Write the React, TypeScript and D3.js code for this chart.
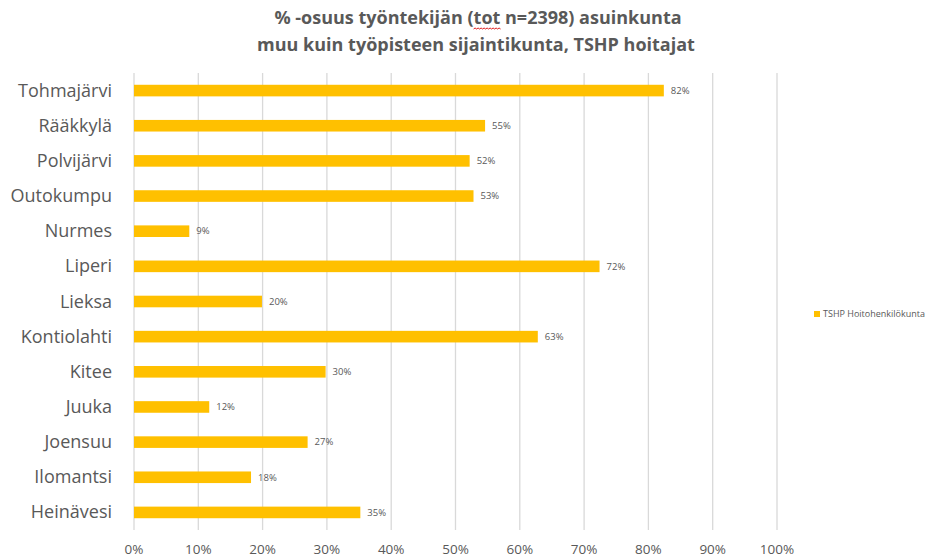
import React, { useLayoutEffect, useRef, useState } from "react";
import * as d3 from "d3";

const categories = ["Tohmajärvi", "Rääkkylä", "Polvijärvi", "Outokumpu", "Nurmes", "Liperi", "Lieksa", "Kontiolahti", "Kitee", "Juuka", "Joensuu", "Ilomantsi", "Heinävesi"];
const values = [82.4, 54.6, 52.2, 52.8, 8.6, 72.4, 19.9, 62.8, 29.8, 11.7, 27.0, 18.2, 35.2];
const ticks = [0, 10, 20, 30, 40, 50, 60, 70, 80, 90, 100];
const titleA = "% -osuus työntekijän (";
const titleTot = "tot";
const titleB = " n=2398) asuinkunta";
const titleLine2 = "muu kuin työpisteen sijaintikunta, TSHP hoitajat";
const seriesName = "TSHP Hoitohenkilökunta";

const W = 927, H = 557;
const left = 134, right = 777, top = 73, bottom = 530;
const font = "'Open Sans', 'Noto Sans', sans-serif";

export default function App() {
  const x = d3.scaleLinear().domain([0, 100]).range([left, right]);
  const y = d3.scaleBand().domain(categories).range([top, bottom]).paddingInner(0.67).paddingOuter(0.335);
  const bh = y.bandwidth();
  const totRef = useRef<SVGTSpanElement>(null);
  const [wave, setWave] = useState<string>("");
  useLayoutEffect(() => {
    const el = totRef.current;
    if (!el) return;
    const b = el.getBBox();
    const x0 = b.x, x1 = b.x + b.width, yy = b.y + b.height;
    let d = `M${x0},${yy}`;
    for (let xx = x0; xx < x1; xx += 3) d += ` q1.5,-2 3,0`;
    setWave(d);
  }, []);
  return (
    <svg width={W} height={H} style={{ position: "absolute", left: 0, top: 0, background: "#fff" }} fontFamily={font}>
      <text x={478} y={24} textAnchor="middle" fontSize={18} fontWeight="bold" fill="#595959">
        {titleA}<tspan ref={totRef}>{titleTot}</tspan>{titleB}
      </text>
      <text x={476} y={51} textAnchor="middle" fontSize={18} fontWeight="bold" fill="#595959">{titleLine2}</text>
      {wave && <path d={wave} fill="none" stroke="#e02020" strokeWidth={1} />}
      {ticks.map(t => (
        <g key={t}>
          <line x1={x(t)} x2={x(t)} y1={top} y2={bottom} stroke="#d9d9d9" strokeWidth={1.3} />
          <text x={x(t)} y={554} textAnchor="middle" fontSize={13.5} fill="#595959">{t + "%"}</text>
        </g>
      ))}
      {categories.map((c, i) => {
        const yy = y(c)!;
        return (
          <g key={c}>
            <rect x={x(0)} y={yy} width={x(values[i]) - x(0)} height={bh} fill="#FFC000" />
            <text x={x(values[i]) + 7} y={yy + bh / 2 + 3.3} fontSize={9.5} fill="#595959">{Math.round(values[i]) + "%"}</text>
            <text x={112} y={yy + bh / 2 + 6} textAnchor="end" fontSize={18} fill="#595959">{c}</text>
          </g>
        );
      })}
      <rect x={814} y={311} width={6} height={6} fill="#FFC000" />
      <text x={823} y={317} fontSize={9} fill="#595959">{seriesName}</text>
    </svg>
  );
}
